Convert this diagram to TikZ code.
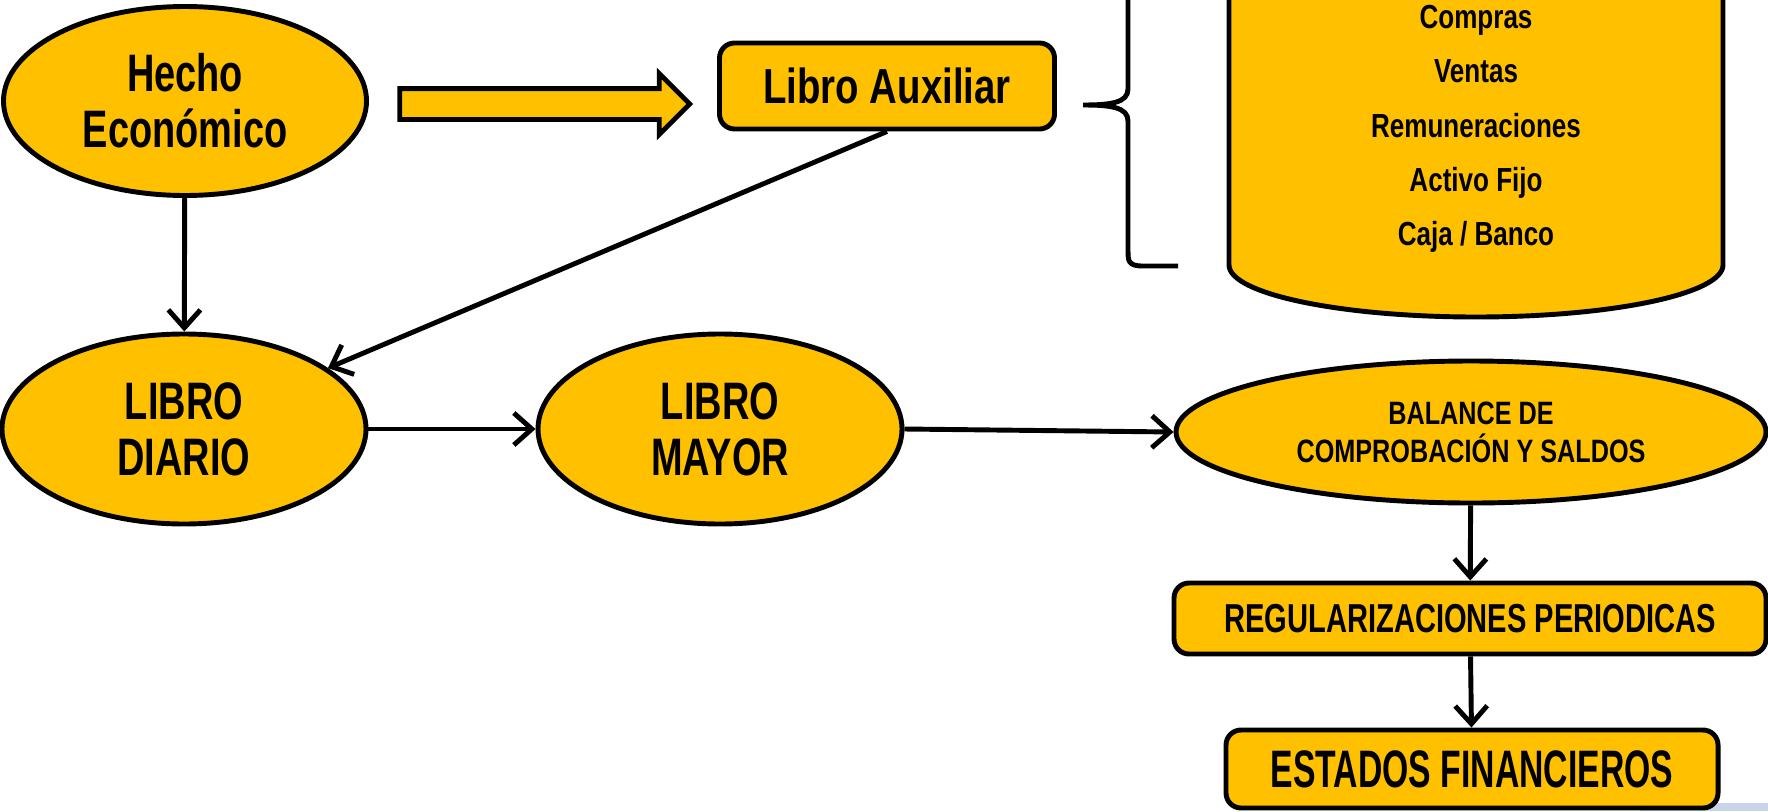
\documentclass[tikz,border=0pt]{standalone}
\usepackage{fontspec}
\setmainfont{Liberation Sans}[FakeStretch=0.78]
\newfontfamily\condfont{Liberation Sans}[FakeStretch=0.72]
\newfontfamily\tightfont{Liberation Sans}[FakeStretch=0.64]
\usetikzlibrary{shapes.geometric,shapes.arrows,arrows.meta}

\definecolor{gold}{HTML}{FFC000}
\definecolor{paleblue}{HTML}{C8D4E8}

\tikzset{
    gold/.style = {draw, fill = gold, line width = 1.4pt},
    oval/.style = {gold, ellipse, inner sep = 0pt, align = center},
    tag/.style = {gold, rectangle, rounded corners = 1.5mm, inner sep = 0pt},
    flow/.style = {line width = 1.4pt, -{Straight Barb[length = 1.8mm, width = 3.2mm]}},
    big/.style = {font = \condfont\bfseries\fontsize{15}{16}\selectfont},
    mid/.style = {font = \condfont\bfseries\fontsize{11.5}{12}\selectfont},
    small/.style = {font = \bfseries\fontsize{9.5}{10.8}\selectfont},
}

\begin{document}
\begin{tikzpicture}
        \useasboundingbox (0, 0) rectangle (17.68, -8.11);

        \node [oval, big, minimum width = 3.63cm, minimum height = 1.89cm] (hecho) at (1.85, -1.01) {Hecho\\Económico};
        \node [tag, font = \bfseries\fontsize{14}{15}\selectfont, minimum width = 3.35cm, minimum height = 0.86cm] (aux) at (8.87, -0.86) {Libro Auxiliar};
        \node [single arrow, gold, inner sep = 0.13cm, minimum height = 2.9cm, single arrow head extend = 0.15cm] (push) at (5.37, -1.04) {};

        \draw [line width = 1.4pt]
            (11.78, 0.56) -- (11.43, 0.56) .. controls (11.28, 0.56) and (11.28, 0.51) .. (11.28, 0.40)
            -- (11.28, -0.89) .. controls (11.28, -1.03) and (11.10, -1.05) .. (10.83, -1.05)
            .. controls (11.10, -1.05) and (11.28, -1.07) .. (11.28, -1.21)
            -- (11.28, -2.50) .. controls (11.28, -2.61) and (11.28, -2.66) .. (11.43, -2.66) -- (11.78, -2.66);

        \filldraw [gold]
            (12.29, 0.3) -- (12.29, -2.65) arc [start angle = 180, end angle = 360, x radius = 2.47, y radius = 0.52] -- (17.23, 0.3);
        \foreach \item [count = \i from 0] in {Compras, Ventas, Remuneraciones, Activo Fijo, Caja / Banco}
            \node [small, anchor = base] (item\i) at (14.76, -0.29 - 0.54 * \i) {\item};

        \node [oval, big, minimum width = 3.64cm, minimum height = 1.90cm] (diario) at (1.84, -4.29) {LIBRO\\DIARIO};
        \node [oval, big, minimum width = 3.64cm, minimum height = 1.90cm] (mayor) at (7.20, -4.29) {LIBRO\\MAYOR};
        \node [oval, font = \bfseries\fontsize{9.2}{10.8}\selectfont, minimum width = 5.90cm, minimum height = 1.42cm] (balance) at (14.71, -4.32) {BALANCE DE\\COMPROBACIÓN Y SALDOS};

        \fill [paleblue] (16.40, -8.03) rectangle (17.68, -8.11);
        \node [tag, mid, minimum width = 5.92cm, minimum height = 0.71cm] (regul) at (14.70, -6.185) {REGULARIZACIONES PERIODICAS};
        \node [tag, font = \tightfont\bfseries\fontsize{15}{16}\selectfont, minimum width = 4.92cm, minimum height = 0.78cm] (estados) at (14.72, -7.69) {ESTADOS FINANCIEROS};

        \path
            (hecho) edge [flow] (diario)
            (aux.south) edge [flow] (diario)
            (diario) edge [flow] (mayor)
            (mayor.east) edge [flow] (balance.west)
            (balance) edge [flow] (regul)
            (regul) edge [flow] (estados)
        ;
    \end{tikzpicture}
\end{document}
